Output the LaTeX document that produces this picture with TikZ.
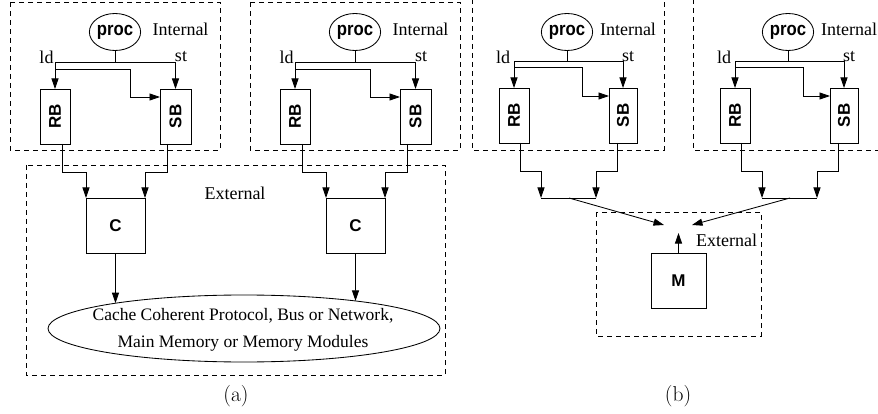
\documentclass[tikz,border=0pt]{standalone}
\usepackage{fontspec}
\newfontfamily\tms{Liberation Serif}
\newfontfamily\hv{Liberation Sans}
\newfontfamily\hvp{Liberation Sans}[FakeStretch=0.88]
\usetikzlibrary{arrows.meta,shapes.geometric,intersections}
\tikzset{
  every node/.style={inner sep=0pt, outer sep=0pt},
  ln/.style={line width=0.85pt},
  arr/.style={line width=0.85pt, -{Triangle[length=10.5pt,width=7pt]}},
  dbox/.style={draw, line width=0.85pt, dash pattern=on 5pt off 4pt},
  box/.style={draw, line width=0.85pt},
  sfb/.style={font=\fontsize{17}{20}\selectfont\hv\bfseries},
  rm/.style={font=\fontsize{18}{21}\selectfont\tms},
  procn/.style={draw, ellipse, minimum width=46pt, minimum height=37pt, line width=0.85pt, font=\fontsize{19}{22}\selectfont\hvp\bfseries},
  captxt/.style={font=\fontsize{21.5}{25}\selectfont},
}
\begin{document}
\begin{tikzpicture}[x=1pt,y=-1pt]
\useasboundingbox (0,0) rectangle (878,414);
\clip (0,0) rectangle (878,414);
\fill[white] (0,0) rectangle (878,414);

% ---------------- (a) ----------------
\draw[dbox] (26,165) rectangle (445,375);
\node[rm] (exta) at (235,193) {External};
\node[draw, ellipse, minimum width=392pt, minimum height=67pt, line width=0.85pt, name path=ell] (ell) at (244,328.5) {};
\node[font=\fontsize{17.5}{27}\selectfont\tms, align=center] (ellt) at (243,330) {Cache Coherent Protocol, Bus or Network,\\Main Memory or Memory Modules};

\foreach \i/\d in {1/0,2/240}{
  \begin{scope}[xshift=\d pt]
    \draw[dbox] (10,2) rectangle (220,150);
    \node[procn] (p\i) at (115,32) {proc};
    \node[rm] (in\i) at (180.5,29) {Internal};
    \node[box, minimum width=30pt, minimum height=55pt] (rb\i) at (55,116.5) {};
    \node[sfb, rotate=90] (rbt\i) at (rb\i) {RB};
    \node[box, minimum width=31pt, minimum height=55pt] (sb\i) at (175.5,116.5) {};
    \node[sfb, rotate=90] (sbt\i) at (sb\i) {SB};
    \node[rm] (ld\i) at (46.5,57) {ld};
    \node[rm] (st\i) at (181,57) {st};
    \coordinate (t\i) at (115,62);
    \coordinate (b\i) at (55,69);
    \coordinate (k\i) at (130,97);
    \draw[ln] (p\i.south) -- (t\i);
    \draw[arr] (t\i) -| (rb\i.north);
    \draw[arr] (t\i) -| (sb\i.north);
    \draw[arr] (b\i) -| (k\i) -- (sb\i.west |- k\i);
    \node[box, minimum width=59pt, minimum height=55pt] (c\i) at (115.5,225.5) {};
    \node[sfb] (ct\i) at (c\i) {C};
    \coordinate (r\i) at (62,144);
    \coordinate (s\i) at (167,144);
    \draw[arr] (r\i) -- ++(0,28) -| (c\i.north west);
    \draw[arr] (s\i) -- ++(0,28) -| (c\i.north east);
    \path[name path=vl\i] (c\i.south) -- ++(0,90);
    \draw[arr, name intersections={of=ell and vl\i}] (c\i.south) -- (intersection-1);
  \end{scope}
}
\node[captxt] (capa) at (236,396) {(a)};

% ---------------- (b) ----------------
\foreach \i/\d in {3/0,4/221}{
  \begin{scope}[xshift=\d pt]
    \draw[dbox] (472,-10) rectangle (664,150);
    \node[procn] (p\i) at (567,32) {proc};
    \node[rm] (in\i) at (628,29) {Internal};
    \node[box, minimum width=30pt, minimum height=55pt] (rb\i) at (514,115.5) {};
    \node[sfb, rotate=90] (rbt\i) at (rb\i) {RB};
    \node[box, minimum width=28pt, minimum height=55pt] (sb\i) at (623,115.5) {};
    \node[sfb, rotate=90] (sbt\i) at (sb\i) {SB};
    \node[rm] (ld\i) at (503,57) {ld};
    \node[rm] (st\i) at (628,57) {st};
    \coordinate (t\i) at (567,61);
    \coordinate (b\i) at (514,67);
    \coordinate (k\i) at (582,96);
    \draw[ln] (p\i.south) -- (t\i);
    \draw[arr] (t\i) -| (rb\i.north);
    \draw[arr] (t\i) -| (sb\i.north);
    \draw[arr] (b\i) -| (k\i) -- (sb\i.west |- k\i);
    \coordinate (r\i) at (520,143);
    \coordinate (s\i) at (617,143);
    \coordinate (ja\i) at (541,198);
    \coordinate (jb\i) at (596,198);
    \coordinate (m\i) at (569,198);
    \draw[arr] (r\i) -- ++(0,28) -| (ja\i);
    \draw[arr] (s\i) -- ++(0,28) -| (jb\i);
    \draw[ln] (ja\i) -- (jb\i);
  \end{scope}
}
\draw[dbox] (596,212) rectangle (761,336);
\node[rm] (extb) at (726.5,240) {External};
\node[box, minimum width=55pt, minimum height=55pt] (mm) at (678.5,280.5) {};
\node[sfb] (mt) at (mm) {M};
\coordinate (e1) at (664,225);
\coordinate (e2) at (692,225);
\coordinate (e3) at (678.5,233);
\draw[arr] (m3) -- (e1);
\draw[arr] (m4) -- (e2);
\draw[arr] (mm.north) -- (e3);
\node[captxt] (capb) at (678,396) {(b)};
\end{tikzpicture}
\end{document}
